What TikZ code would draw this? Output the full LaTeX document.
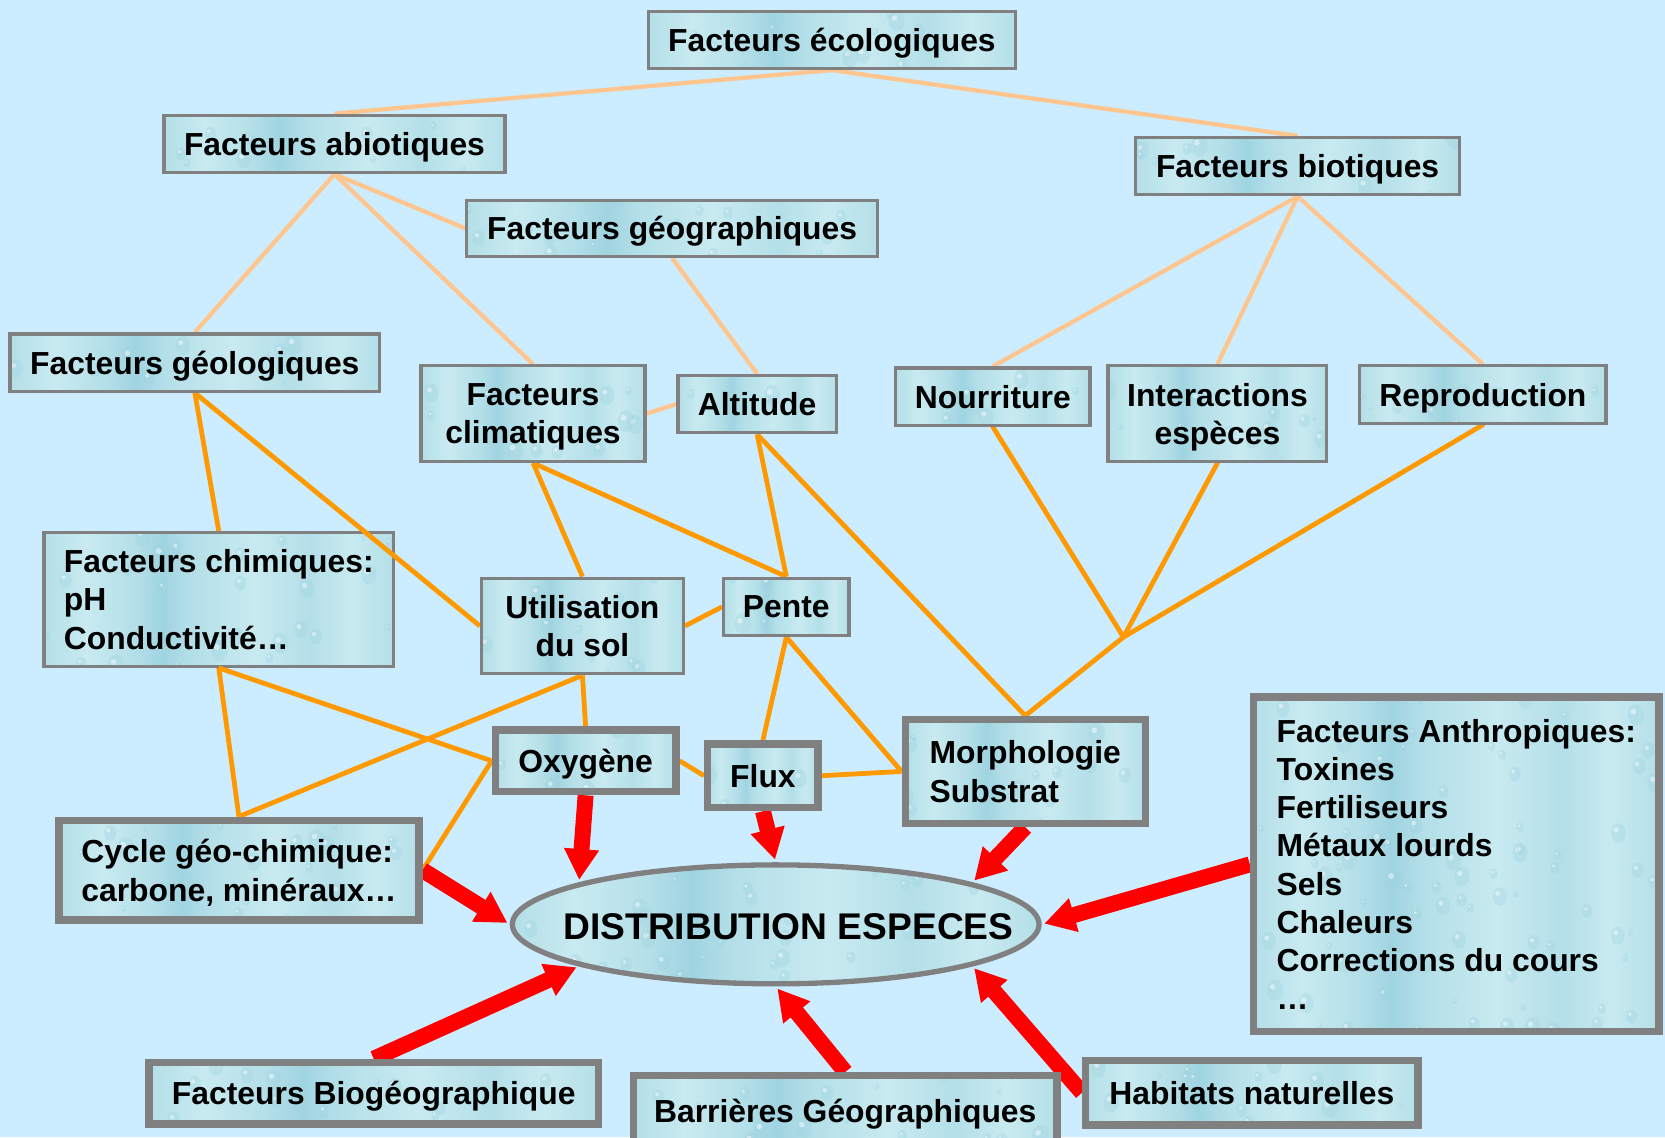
\documentclass[tikz,border=0pt]{standalone}
\usepackage{fontspec}
\setmainfont{Liberation Sans}
\usetikzlibrary{arrows.meta,shapes.geometric}

\definecolor{sky}{HTML}{CCECFF}
\definecolor{frame}{HTML}{808080}
\definecolor{peach}{HTML}{FFC58F}
\definecolor{amber}{HTML}{FF9900}
\definecolor{wlight}{HTML}{C8EAF0}
\definecolor{wmid}{HTML}{B4DFE8}
\definecolor{wdark}{HTML}{A0D4E1}

% water-like fill for the boxes (the 25bp..75bp band is mapped onto the box)
\pgfdeclarehorizontalshading{water}{100bp}{color(0bp)=(wmid); color(25bp)=(wmid);
  color(31bp)=(wlight); color(38bp)=(wmid); color(42bp)=(wdark); color(46bp)=(wmid);
  color(55bp)=(wlight); color(63bp)=(wmid); color(69bp)=(wlight); color(75bp)=(wmid);
  color(100bp)=(wmid)}

% scattered droplets inside a box
\newcommand\droplets{%
  \pgfpointanchor{path picture bounding box}{south west}\pgfgetlastxy\dropxa\dropya
  \pgfpointanchor{path picture bounding box}{north east}\pgfgetlastxy\dropxb\dropyb
  \pgfmathtruncatemacro\dropn{max(3,abs((\dropxb-\dropxa)/40)*abs((\dropyb-\dropya)/35))}%
  \foreach \k in {1,...,\dropn}{%
    \pgfmathsetmacro\dx{\dropxa+rnd*(\dropxb-\dropxa)}%
    \pgfmathsetmacro\dy{\dropya+rnd*(\dropyb-\dropya)}%
    \pgfmathsetmacro\dr{2+rnd*6}%
    \fill[wdark,opacity=.35] (\dx pt,\dy pt) ellipse ({\dr pt} and {1.3*\dr pt});
    \fill[white,opacity=.45] (\dx pt-0.3*\dr pt,\dy pt+0.4*\dr pt) circle ({0.35*\dr pt});
  }%
}

\pgfdeclarelayer{ground}
\pgfdeclarelayer{under}
\pgfdeclarelayer{links}
\pgfsetlayers{ground,under,links,main}

\tikzset{
  card/.style={draw=frame, line width=3pt, shade, shading=water, inner sep=0pt,
    font=\fontsize{30}{36}\selectfont\bfseries, align=center, text depth=0pt,
    path picture={\droplets}},
  heavy/.style={card, line width=7pt},
  softlink/.style={peach, line width=4pt},
  link/.style={amber, line width=4.5pt},
  push/.style={red, line width=15pt, shorten >=2.5pt, -{Triangle[length=29pt,width=31pt]}},
}

\begin{document}
\begin{tikzpicture}[x=1pt, y=-1pt]
\pgfmathsetseed{11}
\useasboundingbox (0,0) rectangle (1568,1071);
\begin{pgfonlayer}{ground}
  \fill[sky] (0,0) rectangle (1568,1071);
\end{pgfonlayer}

% upper hierarchy
\node[card, minimum width=346pt, minimum height=54pt] (eco) at (783.5,37.5) {Facteurs écologiques};
\node[card, minimum width=321pt, minimum height=54pt] (abio) at (315,135.5) {Facteurs abiotiques};
\node[card, minimum width=387pt, minimum height=53pt] (geog) at (633,215) {Facteurs géographiques};
\node[card, minimum width=305pt, minimum height=54pt] (bio) at (1222,156.5) {Facteurs biotiques};

\node[card, minimum width=348pt, minimum height=54pt] (geol) at (183.5,341.5) {Facteurs géologiques};
\node[card, minimum width=211pt, minimum height=90pt] (clim) at (502,389.5) {Facteurs\\climatiques};
\node[card, minimum width=149pt, minimum height=54pt] (alt) at (713,380.5) {Altitude};
\node[card, minimum width=183pt, minimum height=54pt] (nour) at (935,373.5) {Nourriture};
\node[card, minimum width=206pt, minimum height=90pt] (inter) at (1146.5,389.5) {Interactions\\espèces};
\node[card, minimum width=232pt, minimum height=54pt] (repro) at (1396.5,371.5) {Reproduction};

% this box lies under the geology/land-use link
\begin{pgfonlayer}{under}
\node[card, align=left, minimum width=329pt, minimum height=126pt] (chim) at (206,564.5) {Facteurs chimiques:\\pH\\Conductivité…};
\end{pgfonlayer}
\node[card, minimum width=190pt, minimum height=90pt] (util) at (548.5,589.5) {Utilisation\\du sol};
\node[card, minimum width=118pt, minimum height=54pt] (pente) at (740.5,571.5) {Pente};

% framed factors
\node[heavy, minimum width=170pt, minimum height=58pt] (oxy) at (551.5,716.5) {Oxygène};
\node[heavy, minimum width=104pt, minimum height=60pt] (flux) at (718.5,730.5) {Flux};
\node[heavy, align=left, minimum width=226pt, minimum height=98pt] (morph) at (965.5,726.5) {Morphologie\\Substrat};
\node[heavy, align=left, minimum width=339pt, minimum height=94pt] (cycle) at (225,819.5) {Cycle géo-chimique:\\carbone, minéraux…};
\node[heavy, align=left, minimum width=382pt, minimum height=315pt] (anth) at (1371.5,814)
  {Facteurs Anthropiques:\\Toxines\\Fertiliseurs\\Métaux lourds\\Sels\\Chaleurs\\Corrections du cours\\…};
\node[heavy, minimum width=423pt, minimum height=58pt] (biogeo) at (352,1029.5) {Facteurs Biogéographique};
\node[heavy, minimum width=399pt, minimum height=66pt] (barr) at (796,1046) {Barrières Géographiques};
\node[heavy, minimum width=313pt, minimum height=61pt] (hab) at (1179,1029) {Habitats naturelles};

% central ellipse
\node[ellipse, draw=frame, line width=5pt, shade, shading=water, inner sep=0pt,
  minimum width=496pt, minimum height=112pt, path picture={\droplets},
  label={[font=\fontsize{35}{40}\selectfont\bfseries, text depth=0pt, xshift=12pt, yshift=-2pt]center:DISTRIBUTION ESPECES}]
  (dist) at (730.5,870.5) {};

\coordinate (fork) at (1058,600);

\begin{pgfonlayer}{links}
  % hierarchy links
  \draw[softlink] (eco.south) -- (abio.north);
  \draw[softlink] (eco.south) -- (bio.north);
  \draw[softlink] (abio.south) -- (geog.west);
  \draw[softlink] (abio.south) -- (geol.north);
  \draw[softlink] (abio.south) -- (clim.north);
  \draw[softlink] (geog.south) -- (alt.north);
  \draw[softlink] (clim.east) -- (alt.west);
  \draw[softlink] (bio.south) -- (nour.north);
  \draw[softlink] (bio.south) -- (inter.north);
  \draw[softlink] (bio.south) -- (repro.north);

  % interaction network
  \draw[link] (geol.south) -- (chim.north);
  \draw[link] (geol.south) -- (util.west);
  \draw[link] (clim.south) -- (util.north);
  \draw[link] (clim.south) -- (pente.north);
  \draw[link] (alt.south) -- (pente.north);
  \draw[link] (alt.south) -- (morph.north);
  \draw[link] (util.east) -- (pente.west);
  \draw[link] (pente.south) -- (flux.north);
  \draw[link] (pente.south) -- (morph.west);
  \draw[link] (flux.east) -- (morph.west);
  \draw[link] (oxy.east) -- (flux.west);
  \draw[link] (util.south) -- (oxy.north);
  \draw[link] (util.south) -- (cycle.north);
  \draw[link] (chim.south) -- (cycle.north);
  \draw[link] (chim.south) -- (oxy.west);
  \draw[link] (oxy.west) -- (cycle.east);
  \draw[link, line cap=round] (nour.south) -- (fork);
  \draw[link, line cap=round] (inter.south) -- (fork);
  \draw[link, line cap=round] (repro.south) -- (fork);
  \draw[link, line cap=round] (fork) -- (morph.north);

  % influences on the distribution
  \draw[push] (oxy.south) -- (dist.168);
  \draw[push] (flux.south) -- (dist.north);
  \draw[push] (morph.south) -- (dist.12);
  \draw[push] (anth.west) -- (dist.east);
  \draw[push] (hab.west) -- (dist.-12);
  \draw[push] (barr.north) -- (dist.south);
  \draw[push] (biogeo.north) -- (dist.192);
  \draw[push] (cycle.east) -- (dist.west);
\end{pgfonlayer}
\end{tikzpicture}
\end{document}
